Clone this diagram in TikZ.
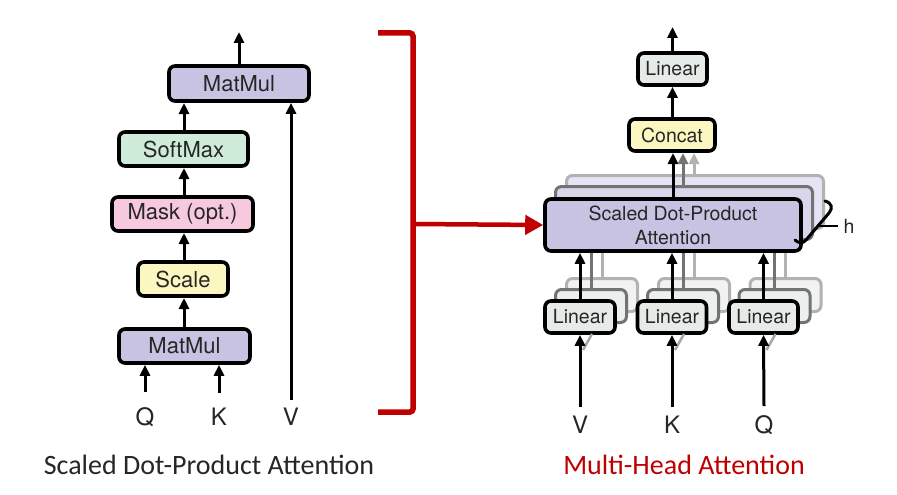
\documentclass[tikz,border=0pt]{standalone}
\usepackage{fontspec}
\setmainfont{TeX Gyre Heros}
\newfontfamily\capfont{Carlito}
\usetikzlibrary{arrows.meta}
\definecolor{mmpurple}{HTML}{C8C3E3}
\definecolor{smgreen}{HTML}{CFEBD9}
\definecolor{mkpink}{HTML}{F7C9DF}
\definecolor{scyellow}{HTML}{FBF7C0}
\definecolor{lngrey}{HTML}{E6EBE8}
\definecolor{txtdark}{HTML}{262626}
\definecolor{redline}{HTML}{C00000}
\begin{document}
\begin{tikzpicture}[x=1pt,y=-1pt,
  boxl/.style={draw=black, line width=3.6pt, rounded corners=6pt, inner sep=0pt,
    text=txtdark, font=\fontsize{22}{26}\selectfont},
  boxr/.style={draw=black, line width=3.6pt, rounded corners=6pt, inner sep=0pt,
    text=txtdark, font=\fontsize{19.5}{24}\selectfont, align=center},
  shadowa/.style={draw=black!55, line width=3pt, rounded corners=6pt, inner sep=0pt},
  shadowb/.style={draw=black!30, line width=3pt, rounded corners=6pt, inner sep=0pt},
  arr/.style={line width=3pt, -{Triangle[length=11pt,width=10pt]}},
  lbl/.style={inner sep=0pt, text=txtdark, font=\fontsize{24}{28}\selectfont},
  captext/.style={inner sep=0pt, font=\capfont\fontsize{28}{32}\selectfont}]
\useasboundingbox (0,0) rectangle (897,495);

% ---------- Scaled Dot-Product Attention ----------
\node[boxl, fill=mmpurple, minimum width=140pt, minimum height=35pt] (mm2) at (239,83.5) {MatMul};
\node[boxl, fill=smgreen, minimum width=129pt, minimum height=34pt] (sm) at (183.5,149) {SoftMax};
\node[boxl, fill=mkpink, minimum width=141pt, minimum height=34pt] (mask) at (182.5,214) {Mask (opt.)};
\node[boxl, fill=scyellow, minimum width=90pt, minimum height=34pt] (sc) at (183,279) {Scale};
\node[boxl, fill=mmpurple, minimum width=131pt, minimum height=34pt] (mm1) at (184.5,346) {MatMul};
\node[lbl] (q1) at (145,417) {Q};
\node[lbl] (k1) at (219,417) {K};
\node[lbl] (v1) at (291,417) {V};
\coordinate (out1) at (239,32);

\draw[arr] (mm2.north) -- (out1);
\draw[arr] (184,130) -- (184,103);
\draw[arr] (184,195) -- (184,168);
\draw[arr] (184,260) -- (184,233);
\draw[arr] (184,327) -- (184,298);
\draw[arr] ([yshift=15pt]q1.north) -- (q1.north |- mm1.south);
\draw[arr] ([yshift=15pt]k1.north) -- (k1.north |- mm1.south);
\draw[arr] ([yshift=8pt]v1.north) -- (v1.north |- mm2.south);

% ---------- red bracket ----------
\draw[redline, line width=5.5pt, rounded corners=3pt] (378,33) -- (413,33) -- (413,412) -- (378,412);
\coordinate (br) at (413,224);

% ---------- Multi-Head Attention ----------
\node[shadowb, fill=mmpurple!45, minimum width=257pt, minimum height=53pt] (sd3) at (695,202) {};
\node[shadowa, fill=mmpurple!70, minimum width=257pt, minimum height=53pt] (sd2) at (684,213) {};
\foreach \n/\cx in {V/580,K/672,Q/763.5}{
  \node[shadowb, fill=lngrey!60, minimum width=71pt, minimum height=33pt] (lin\n3) at (\cx+22,295) {};
  \node[shadowa, fill=lngrey!80, minimum width=71pt, minimum height=33pt] (lin\n2) at (\cx+11,306) {};
}
\node[boxr, fill=mmpurple, minimum width=256pt, minimum height=52pt] (sdpa) at (673,225) {Scaled Dot-Product\\Attention};
\node[boxr, fill=lngrey, minimum width=70pt, minimum height=32pt] (linV) at (580,317) {Linear};
\node[boxr, fill=lngrey, minimum width=69pt, minimum height=32pt] (linK) at (672,317) {Linear};
\node[boxr, fill=lngrey, minimum width=69pt, minimum height=32pt] (linQ) at (763.5,317) {Linear};
\node[boxr, fill=scyellow, minimum width=86pt, minimum height=32pt] (cat) at (672,135) {Concat};
\node[boxr, fill=lngrey, minimum width=69pt, minimum height=32pt] (lin) at (672.5,69) {Linear};
\node[lbl] (v2) at (580,425) {V};
\node[lbl] (k2) at (672,425) {K};
\node[lbl] (q2) at (764,425) {Q};
\coordinate (out2) at (672.5,27);

\draw[redline, line width=4.5pt, -{Triangle[length=18pt,width=19pt]}] (br) -- (sdpa.west);

\draw[arr] (lin.north) -- (out2);
\draw[arr] (cat.north -| lin.south) -- (lin.south);
\draw[arr] (673,197) -- (673,153);
\draw[arr, black!55] (683,185) -- (683,153);
\draw[arr, black!30] (694,174) -- (694,153);

\foreach \n/\cx in {V/580,K/672,Q/763.5}{
  \draw[black!30, line width=3pt] (\cx+22,279) -- (\cx+22,253);
  \draw[black!55, line width=3pt] (\cx+11,290) -- (\cx+11,253);
  \draw[black!35, line width=2.5pt] (\cx+3,350) -- (\cx+12,334);
}
\draw[arr] (linV.north) -- (linV.north |- sdpa.south);
\draw[arr] (linK.north) -- (linK.north |- sdpa.south);
\draw[arr] (linQ.north) -- (linQ.north |- sdpa.south);
\draw[arr] ([yshift=9pt]v2.north) -- (linV.south);
\draw[arr] ([yshift=9pt]k2.north) -- (linK.south);
\draw[arr] ([yshift=9pt]q2.north) -- (linQ.south);

% h bracket
\draw[line width=3pt, line cap=round] (825,201) .. controls (832,203) and (833,208) .. (829,213)
  -- (806,240) .. controls (803,244) and (798,243) .. (795,240);
\draw[line width=2.2pt] (818,226) -- (838,226);
\node[lbl, font=\fontsize{19.5}{24}\selectfont] (h) at (849,226) {h};

% captions
\node[captext, text=txtdark] (c1) at (209,465) {Scaled Dot-Product Attention};
\node[captext, text=redline] (c2) at (684,465) {Multi-Head Attention};
\end{tikzpicture}
\end{document}
